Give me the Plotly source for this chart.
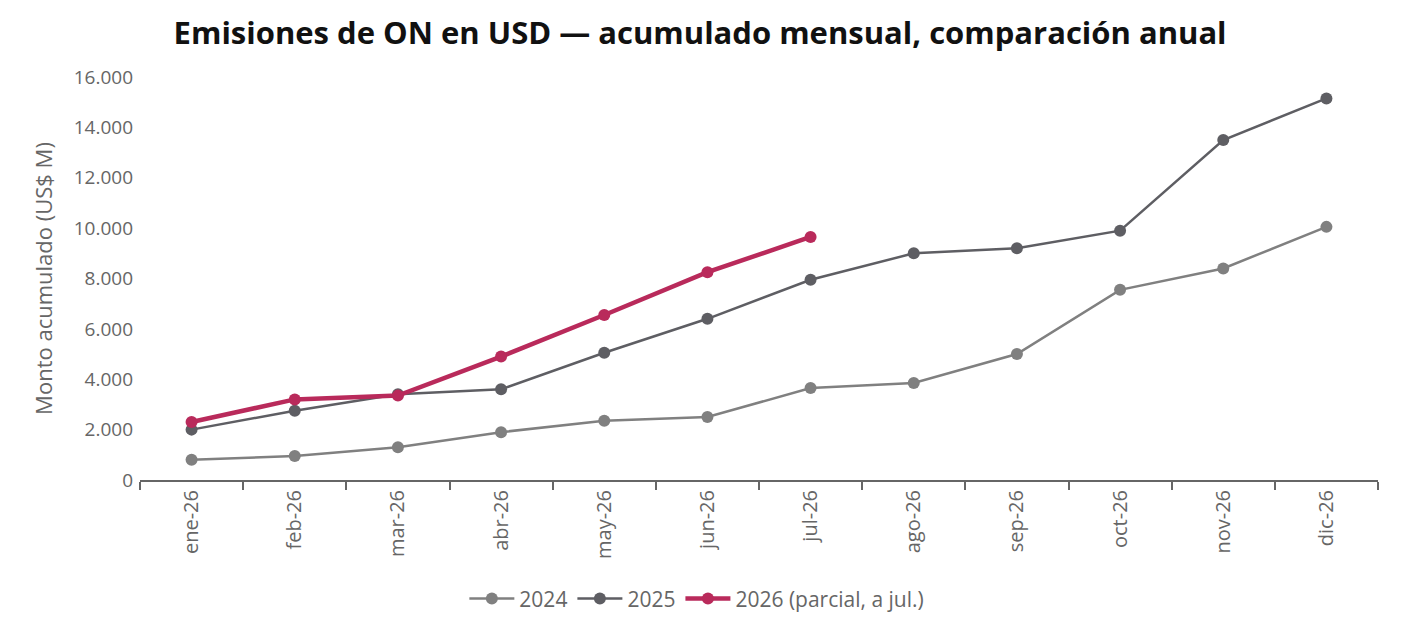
import plotly.graph_objects as go

meses = ["ene-26", "feb-26", "mar-26", "abr-26", "may-26", "jun-26",
         "jul-26", "ago-26", "sep-26", "oct-26", "nov-26", "dic-26"]

v2024 = [800, 950, 1300, 1900, 2350, 2500, 3650, 3850, 5000, 7550, 8400, 10050]
v2025 = [2000, 2750, 3400, 3600, 5050, 6400, 7950, 9000, 9200, 9900, 13500, 15150]
v2026 = [2300, 3200, 3350, 4900, 6550, 8250, 9650]

FONT = "Open Sans"
GRIS = "#666666"

fig = go.Figure()

fig.add_trace(go.Scatter(
    x=meses, y=v2024, name="2024", mode="lines+markers",
    line=dict(color="#808080", width=2.5),
    marker=dict(size=12, color="#808080"),
))
fig.add_trace(go.Scatter(
    x=meses, y=v2025, name="2025", mode="lines+markers",
    line=dict(color="#5e5e63", width=2.5),
    marker=dict(size=12, color="#5e5e63"),
))
fig.add_trace(go.Scatter(
    x=meses[:len(v2026)], y=v2026, name="2026 (parcial, a jul.)", mode="lines+markers",
    line=dict(color="#b92a5b", width=4.5),
    marker=dict(size=12, color="#b92a5b"),
))

fig.update_layout(
    width=1401, height=630,
    paper_bgcolor="white", plot_bgcolor="white",
    margin=dict(l=132, r=31, t=69, b=158),
    font=dict(family=FONT, color=GRIS, size=19),
    title=dict(
        text="<b>Emisiones de ON en USD — acumulado mensual, comparación anual</b>",
        x=0.494, xanchor="center", y=0.960, yanchor="middle",
        font=dict(family=FONT, size=31, color="#111111"),
    ),
    legend=dict(
        orientation="h", x=0.262, xanchor="left", y=-0.295, yanchor="middle",
        font=dict(size=21, color=GRIS), itemwidth=45,
    ),
    showlegend=True,
)

fig.update_xaxes(
    type="category", tickangle=-90, showgrid=False,
    showline=True, linecolor="#666666", linewidth=2,
    ticks="outside", tickson="boundaries", ticklen=8, tickcolor="#666666", tickwidth=2,
    tickfont=dict(size=20, color=GRIS),
    range=[-0.5, 11.5],
)
fig.update_yaxes(
    range=[0, 16000], tickvals=[0, 2000, 4000, 6000, 8000, 10000, 12000, 14000, 16000],
    ticktext=["0", "2.000", "4.000", "6.000", "8.000", "10.000", "12.000", "14.000", "16.000"],
    showgrid=False, zeroline=False, showline=False,
    tickfont=dict(size=19, color=GRIS),
    title=dict(text="Monto acumulado (US$ M)", font=dict(size=22, color=GRIS), standoff=14),
    ticks="", ticklabelstandoff=6,
)

fig.write_html("out.html")
